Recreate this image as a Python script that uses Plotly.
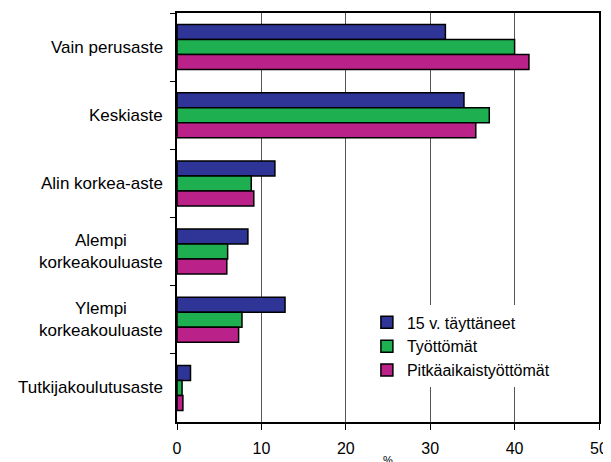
import plotly.graph_objects as go

categories = ["Vain perusaste", "Keskiaste", "Alin korkea-aste",
              "Alempi<br>korkeakouluaste", "Ylempi<br>korkeakouluaste",
              "Tutkijakoulutusaste"]
series_names = ["15 v. täyttäneet", "Työttömät", "Pitkäaikaistyöttömät"]
v_15v = [31.8, 34.0, 11.6, 8.4, 12.8, 1.6]
v_tyottomat = [40.0, 37.0, 8.8, 6.0, 7.7, 0.6]
v_pitka = [41.7, 35.4, 9.1, 5.9, 7.3, 0.7]
x_ticks = [0, 10, 20, 30, 40, 50]
colors = ["#2E3596", "#1EB050", "#BB2289"]

FONT = "Liberation Sans, Arial"

fig = go.Figure()
for name, vals, col in zip(series_names, [v_15v, v_tyottomat, v_pitka], colors):
    fig.add_trace(go.Bar(
        y=categories, x=vals, name=name, orientation="h",
        marker=dict(color=col, line=dict(color="black", width=1.5)),
    ))

for c in categories:
    fig.add_annotation(
        x=0, xref="paper", y=c, yref="y", text=c, showarrow=False,
        xanchor="right", align="center", xshift=-12,
        font=dict(family=FONT, size=17, color="black"),
    )

fig.add_annotation(x=0.5, xref="paper", y=0, yref="paper", yanchor="top",
                   yshift=-30, text="%", showarrow=False,
                   font=dict(family=FONT, size=11, color="black"))

# page body has an 8px margin: compensate so the plot area lands where the reference has it
fig.update_layout(
    width=603, height=454,
    margin=dict(l=169, r=10, t=3, b=40),
    paper_bgcolor="white", plot_bgcolor="white",
    barmode="group", bargap=0.34, bargroupgap=0,
    font=dict(family=FONT, size=16, color="black"),
    showlegend=True,
    legend=dict(x=0.45, y=0.285, xanchor="left", yanchor="top",
                bgcolor="white", borderwidth=0, itemwidth=30,
                font=dict(size=16), tracegroupgap=0),
    xaxis=dict(range=[0, 50], tickvals=x_ticks, ticks="outside", ticklen=6,
               tickcolor="black", showgrid=True, gridcolor="#555555", gridwidth=1,
               showline=True, linecolor="black", linewidth=2, mirror=True,
               zeroline=False, tickfont=dict(size=16), ticklabeloverflow="allow",
               ticklabelstandoff=5),
    yaxis=dict(autorange="reversed", categoryorder="array", categoryarray=categories,
               showticklabels=False, ticks="outside", tickson="boundaries",
               ticklen=5, tickcolor="black",
               showline=True, linecolor="black", linewidth=2, mirror=True,
               showgrid=False),
)

fig.write_html("out.html")
